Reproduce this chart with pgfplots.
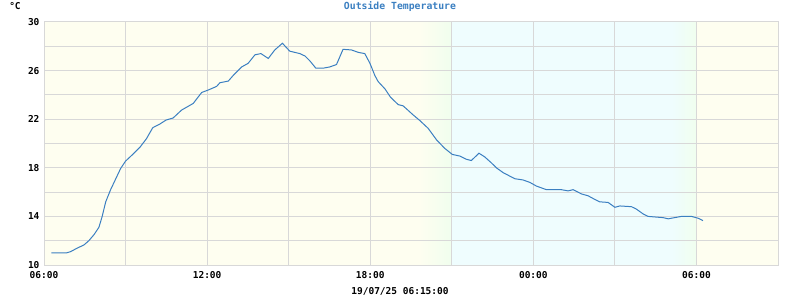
\documentclass[border=0pt]{standalone}
\usepackage{pgfplots}
\pgfplotsset{compat=1.18}
\usepackage{fontspec}
\newfontfamily\monob{DejaVu Sans Mono}
\definecolor{bgy}{HTML}{FEFEF0}
\definecolor{bgc}{HTML}{EFFDFE}
\definecolor{bgg}{HTML}{F0FEEE}
\definecolor{gridc}{HTML}{D8D8D8}
\definecolor{lineb}{HTML}{3B7FC1}
\pgfplotstableread{
h T
0.27 11.0
0.83 11.0
0.98 11.1
1.23 11.4
1.47 11.65
1.65 12.0
1.84 12.5
2.02 13.1
2.14 14.0
2.27 15.2
2.45 16.2
2.63 17.05
2.82 17.95
3.0 18.55
3.31 19.2
3.55 19.75
3.77 20.4
4.0 21.3
4.26 21.6
4.49 21.93
4.75 22.1
5.06 22.75
5.49 23.3
5.80 24.2
6.04 24.4
6.35 24.7
6.47 25.0
6.78 25.14
6.96 25.6
7.27 26.3
7.51 26.6
7.76 27.3
7.98 27.4
8.25 27.0
8.49 27.7
8.77 28.25
9.04 27.6
9.41 27.4
9.6 27.2
9.78 26.8
10.0 26.2
10.27 26.2
10.51 26.3
10.76 26.5
11.0 27.75
11.31 27.7
11.56 27.5
11.8 27.4
11.99 26.6
12.17 25.6
12.29 25.1
12.54 24.5
12.75 23.8
13.03 23.2
13.21 23.1
13.58 22.35
13.82 21.9
14.13 21.25
14.44 20.3
14.74 19.6
15.02 19.1
15.29 18.97
15.54 18.7
15.72 18.6
16.0 19.2
16.21 18.9
16.46 18.4
16.64 18.0
16.89 17.6
17.32 17.1
17.62 17.0
17.87 16.8
18.11 16.5
18.48 16.2
18.67 16.2
19.03 16.2
19.28 16.1
19.46 16.2
19.77 15.85
20.01 15.7
20.26 15.4
20.44 15.2
20.75 15.15
21.0 14.75
21.18 14.86
21.61 14.8
21.79 14.6
22.04 14.2
22.22 14.0
22.77 13.9
22.96 13.8
23.2 13.9
23.45 14.0
23.82 14.0
24.06 13.85
24.24 13.65
}\tempdata
\begin{document}
\begin{tikzpicture}[x=1pt,y=1pt]
\begin{axis}[
  set layers,
  at={(44pt,35pt)}, anchor=south west,
  scale only axis, width=734pt, height=243pt,
  xmin=0, xmax=27, ymin=10, ymax=30,
  xtick={0,6,12,18,24}, xticklabels={06:00,12:00,18:00,00:00,06:00},
  minor xtick={3,9,15,21,27},
  ytick={10,14,18,22,26,30}, minor ytick={12,16,20,24,28},
  grid=both,
  grid style={gridc, line width=1pt},
  minor grid style={gridc, line width=1pt},
  major grid style={gridc, line width=1pt},
  major tick length=0pt, minor tick length=0pt,
  axis line style={gridc, line width=1pt},
  tick label style={font=\monob\bfseries\fontsize{9.5}{11}\selectfont, text=black},
  /pgf/number format/assume math mode=true,
  xticklabel style={yshift=-3pt},
  yticklabel style={xshift=-1pt},
]
\addplot[on layer=axis background, draw=none, fill=bgy] coordinates {(0,10) (27,10) (27,30) (0,30)} \closedcycle;
\addplot[on layer=axis background, draw=none, left color=bgy, right color=bgg] coordinates {(13.8,10) (15,10) (15,30) (13.8,30)} \closedcycle;
\addplot[on layer=axis background, draw=none, fill=bgc] coordinates {(15,10) (23.1,10) (23.1,30) (15,30)} \closedcycle;
\addplot[on layer=axis background, draw=none, left color=bgc, right color=bgg] coordinates {(23.1,10) (24,10) (24,30) (23.1,30)} \closedcycle;
\addplot[lineb, line width=1pt, no marks] table[x=h, y=T] {\tempdata};
\end{axis}
\node[font=\monob\bfseries\fontsize{9.8}{11}\selectfont, text=lineb] at (400,293.5) {Outside Temperature};
\node[font=\monob\bfseries\fontsize{9.5}{11}\selectfont] at (15,294) {°C};
\node[font=\monob\bfseries\fontsize{9.5}{11}\selectfont] at (400,8.5) {19/07/25 06:15:00};
\pgfresetboundingbox
\path[use as bounding box] (0,0) rectangle (800,300);
\end{tikzpicture}
\end{document}
